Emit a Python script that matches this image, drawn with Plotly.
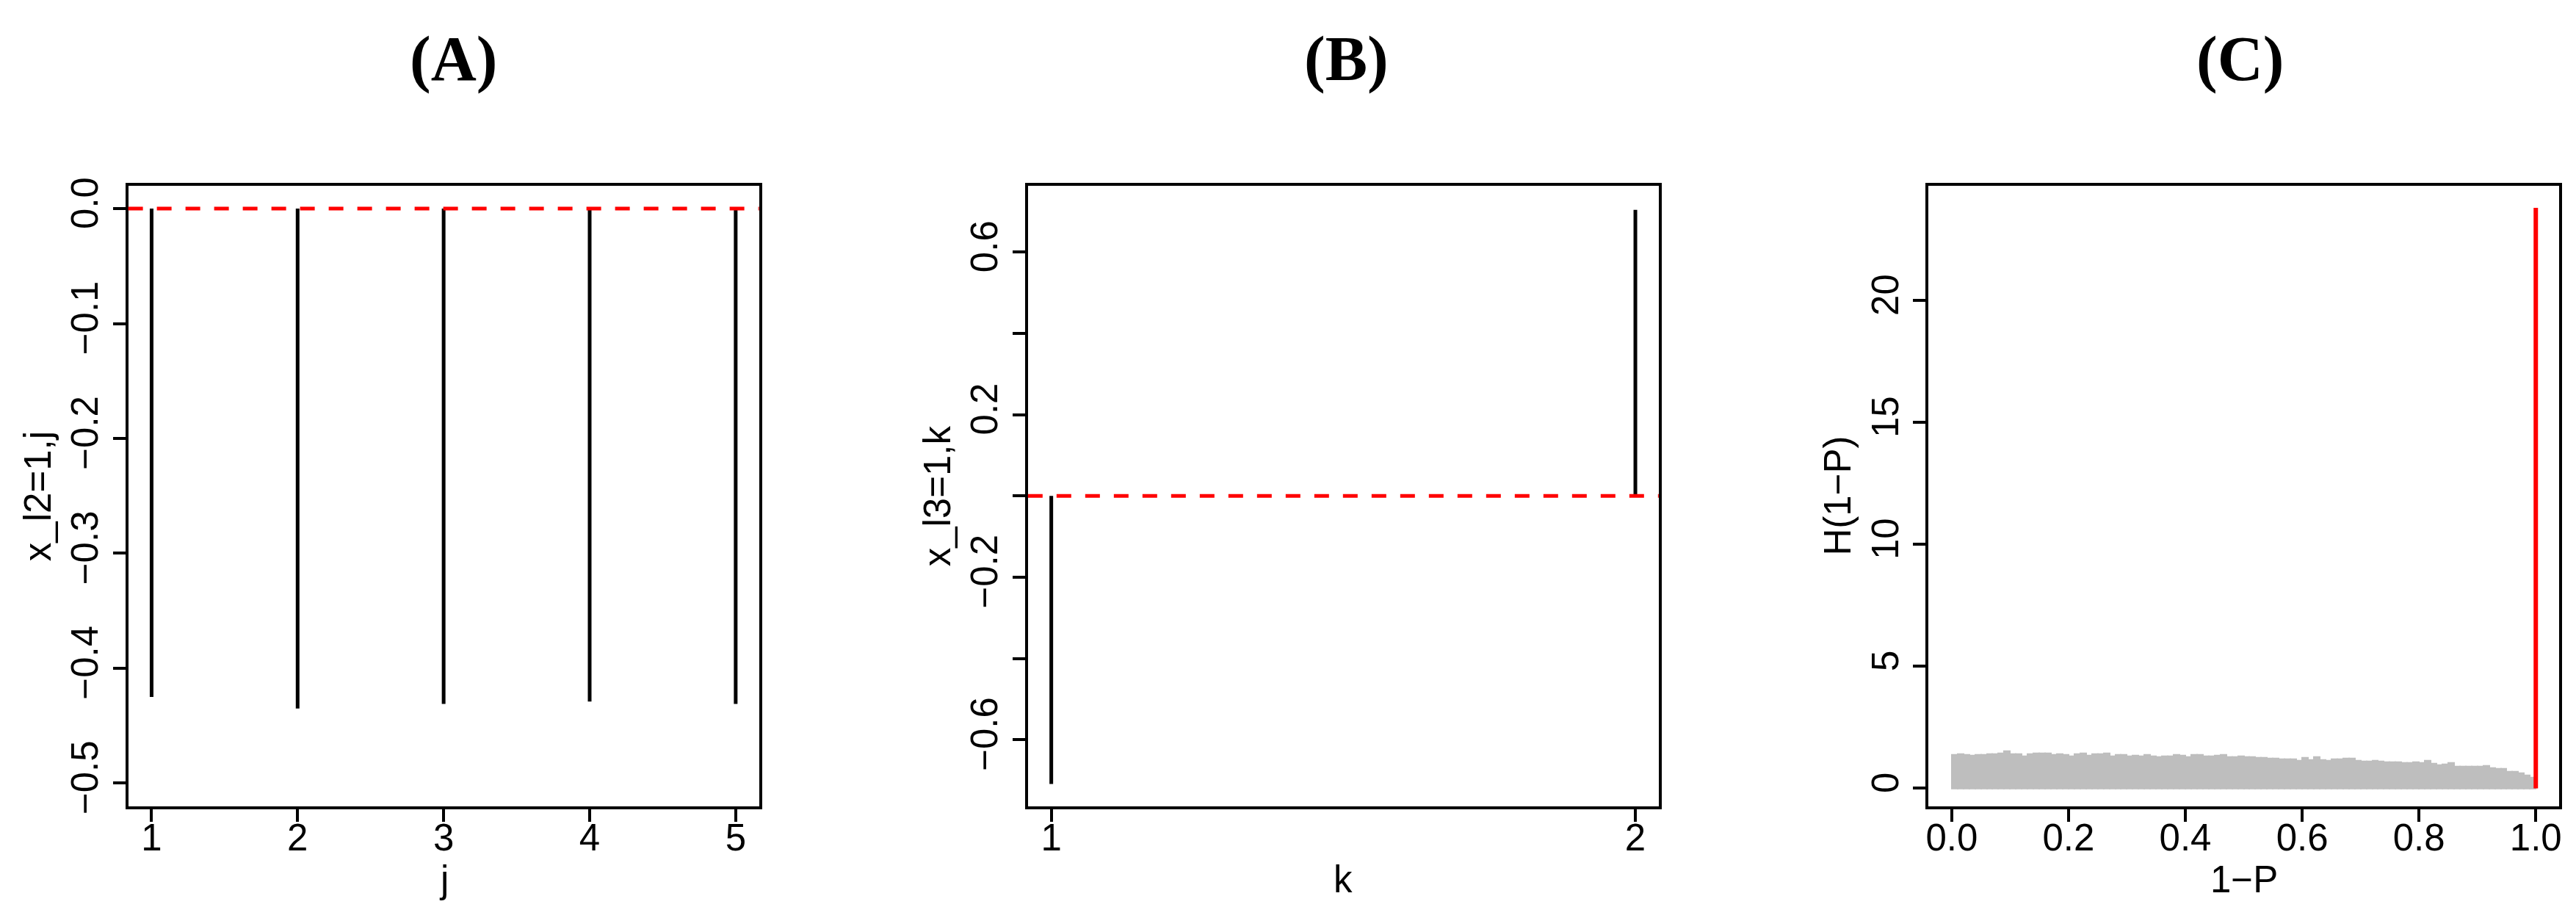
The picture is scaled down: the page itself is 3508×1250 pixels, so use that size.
import plotly.graph_objects as go

# ---- data ----
# (A) stems x_l2=1,j for j = 1..5
a_j = [1, 2, 3, 4, 5]
a_vals = [-0.425, -0.435, -0.431, -0.429, -0.431]
a_yticks = [0.0, -0.1, -0.2, -0.3, -0.4, -0.5]

# (B) stems x_l3=1,k for k = 1..2
b_k = [1, 2]
b_vals = [-0.709, 0.704]
b_yticks = [-0.6, -0.4, -0.2, 0.0, 0.2, 0.4, 0.6]
b_yticktext = ["\u22120.6", "", "\u22120.2", "", "0.2", "", "0.6"]

# (C) histogram of 1-P (density, bins of 0.01) and the spike at 1.0
c_bin_width = 0.01
c_density = [
    1.36, 1.39, 1.36, 1.34, 1.36, 1.37, 1.39, 1.40, 1.44, 1.52,
    1.39, 1.40, 1.32, 1.40, 1.42, 1.42, 1.44, 1.38, 1.39, 1.37,
    1.30, 1.40, 1.42, 1.34, 1.39, 1.39, 1.44, 1.32, 1.38, 1.36,
    1.32, 1.34, 1.32, 1.37, 1.32, 1.28, 1.32, 1.32, 1.38, 1.34,
    1.28, 1.37, 1.36, 1.32, 1.30, 1.34, 1.36, 1.29, 1.28, 1.32,
    1.28, 1.28, 1.26, 1.26, 1.22, 1.22, 1.20, 1.19, 1.18, 1.14,
    1.24, 1.16, 1.27, 1.16, 1.14, 1.18, 1.20, 1.21, 1.22, 1.12,
    1.09, 1.10, 1.12, 1.09, 1.08, 1.07, 1.07, 1.05, 1.03, 1.08,
    1.05, 1.12, 1.01, 0.95, 0.97, 1.03, 0.89, 0.88, 0.88, 0.89,
    0.89, 0.93, 0.83, 0.79, 0.79, 0.69, 0.67, 0.61, 0.53, 0.45,
]
c_spike_x = [1.0]
c_spike_h = [23.8]
c_xticks = [0.0, 0.2, 0.4, 0.6, 0.8, 1.0]
c_yticks = [0, 5, 10, 15, 20]

panel_titles = ["(A)", "(B)", "(C)"]
x_titles = ["j", "k", "1\u2212P"]
y_titles = ["x_l2=1,j", "x_l3=1,k", "H(1\u2212P)"]

W, H = 3508, 1250
box_left = [163, 1391, 2620]
box_w = 861
box_top, box_bottom = 238, 1098
title_cx = [607, 1826, 3045]

SANS = "Liberation Sans, Arial, sans-serif"
SERIF = "Liberation Serif, Times New Roman, serif"


def stems(xs, ys):
    px, py = [], []
    for x, y in zip(xs, ys):
        px += [x, x, None]
        py += [0, y, None]
    return px, py


def axis_style(**extra):
    style = dict(
        showline=True, linecolor="black", linewidth=4, mirror=True,
        ticks="outside", ticklen=17, tickwidth=4, tickcolor="black",
        showgrid=False, zeroline=False,
        tickfont=dict(family=SANS, size=51, color="black"),
    )
    style.update(extra)
    return style


fig = go.Figure()

x, y = stems(a_j, a_vals)
fig.add_trace(go.Scatter(x=x, y=y, mode="lines", line=dict(color="black", width=5),
                         xaxis="x", yaxis="y", showlegend=False))
x, y = stems(b_k, b_vals)
fig.add_trace(go.Scatter(x=x, y=y, mode="lines", line=dict(color="black", width=5),
                         xaxis="x2", yaxis="y2", showlegend=False))
fig.add_trace(go.Bar(
    x=[c_bin_width * i for i in range(len(c_density))], y=c_density,
    width=c_bin_width, offset=0,
    marker=dict(color="#bebebe", line=dict(color="#bebebe", width=2)),
    xaxis="x3", yaxis="y3", showlegend=False))
x, y = stems(c_spike_x, c_spike_h)
fig.add_trace(go.Scatter(x=x, y=y, mode="lines", line=dict(color="red", width=6),
                         xaxis="x3", yaxis="y3", showlegend=False))

# red dashed reference lines at 0
for xr, yr in [("x domain", "y"), ("x2 domain", "y2")]:
    fig.add_shape(type="line", xref=xr, yref=yr, x0=0, x1=1, y0=0, y1=0,
                  line=dict(color="red", width=5, dash="20px,19px"))

ydom = [1 - box_bottom / H, 1 - box_top / H]
doms = [[l / W, (l + box_w) / W] for l in box_left]
xlab = dict(ticklabelstandoff=-22)

fig.update_layout(
    width=W, height=H,
    margin=dict(l=0, r=0, t=0, b=0),
    paper_bgcolor="white", plot_bgcolor="white",
    bargap=0,
    xaxis=axis_style(domain=doms[0], anchor="y", range=[0.84, 5.16],
                     tickvals=a_j, **xlab),
    yaxis=axis_style(domain=ydom, anchor="x", range=[-0.52, 0.02],
                     tickvals=a_yticks, tickformat=".1f", tickangle=-90),
    xaxis2=axis_style(domain=doms[1], anchor="y2", range=[0.96, 2.04],
                      tickvals=b_k, **xlab),
    yaxis2=axis_style(domain=ydom, anchor="x2", range=[-0.7636, 0.7636],
                      tickvals=b_yticks, ticktext=b_yticktext, tickangle=-90),
    xaxis3=axis_style(domain=doms[2], anchor="y3", range=[-0.04, 1.04],
                      tickvals=c_xticks, tickformat=".1f", **xlab),
    yaxis3=axis_style(domain=ydom, anchor="x3", range=[-0.73, 24.71],
                      tickvals=c_yticks, tickangle=-90),
)

for i in range(3):
    fig.add_annotation(text="<b>%s</b>" % panel_titles[i], xref="paper", yref="paper",
                       x=title_cx[i] / W, y=1 - 62 / H, xanchor="center", yanchor="middle",
                       showarrow=False, font=dict(family=SERIF, size=86, color="black"))
    fig.add_annotation(text=x_titles[i], xref="paper", yref="paper",
                       x=(box_left[i] + box_w / 2) / W, y=1 - 1200 / H,
                       xanchor="center", yanchor="middle", showarrow=False,
                       font=dict(family=SANS, size=51, color="black"))
    fig.add_annotation(text=y_titles[i], xref="paper", yref="paper",
                       x=(box_left[i] - 124) / W, y=1 - (box_top + box_bottom) / 2 / H,
                       xanchor="center", yanchor="middle", textangle=-90, showarrow=False,
                       font=dict(family=SANS, size=51, color="black"))

fig.write_html("out.html")
